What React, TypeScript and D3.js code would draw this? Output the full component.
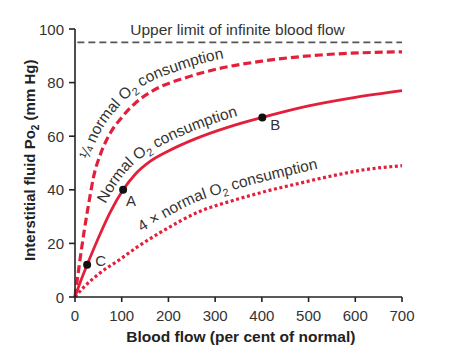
import React from "react";
import * as d3 from "d3";

const W = 466;
const H = 355;

// Blood flow (% of normal) vs interstitial fluid Po2 (mm Hg)
const quarterFlow = [0, 10, 20, 30, 40, 55, 75, 100, 130, 167, 240, 310, 400, 525, 700];
const quarterPo2 = [0, 13, 25, 35.5, 45, 53.5, 61, 67, 72.5, 77, 82, 85.3, 88, 90.3, 91.5];

const normalFlow = [0, 13, 26, 50, 75, 103, 130, 160, 200, 260, 330, 401, 500, 600, 700];
const normalPo2 = [0, 6.3, 12, 22, 31.5, 40, 46, 50.5, 54.5, 59.2, 63.5, 67, 71.3, 74.5, 77];

const fourFlow = [0, 18, 50, 96, 132, 182, 268, 338, 410, 482, 553, 620, 700];
const fourPo2 = [0, 3.5, 8.5, 14, 18.5, 24, 32, 36, 39.5, 42.5, 45.3, 47.5, 49];

const upperLimit = 95;

const markerNames = ["C", "A", "B"];
const markerFlow = [26, 103, 401];
const markerPo2 = [12, 40, 67];

const xTicks = [0, 100, 200, 300, 400, 500, 600, 700];
const yTicks = [0, 20, 40, 60, 80, 100];

const RED = "#e3203c";
const TEXT = "#333";
const FONT = "'Liberation Sans', Arial, Helvetica, sans-serif";

const x = d3.scaleLinear().domain([0, 700]).range([75, 402]);
const y = d3.scaleLinear().domain([0, 100]).range([297, 29]);

const line = d3
  .line<[number, number]>()
  .x((d) => x(d[0]))
  .y((d) => y(d[1]))
  .curve(d3.curveMonotoneX);

const zip = (a: number[], b: number[]) => a.map((v, i) => [v, b[i]] as [number, number]);

function offsetPath(data: [number, number][], dist: number) {
  const pts = data.map((d) => [x(d[0]), y(d[1])]);
  const out = pts.map((p, i) => {
    const a = pts[Math.max(0, i - 1)];
    const b = pts[Math.min(pts.length - 1, i + 1)];
    const dx = b[0] - a[0];
    const dy = b[1] - a[1];
    const len = Math.hypot(dx, dy) || 1;
    const tx = dx / len;
    const ty = dy / len;
    return [p[0] + dist * ty, p[1] - dist * tx] as [number, number];
  });
  return d3.line<[number, number]>().curve(d3.curveCatmullRom.alpha(0.5))(out) || "";
}

const quarter = zip(quarterFlow, quarterPo2);
const normal = zip(normalFlow, normalPo2);
const four = zip(fourFlow, fourPo2);

// label offsets (px) for marker letters
const markerLabelDx = [8, 3, 8];
const markerLabelDy = [1, 16, 13];

function Label({ id, path, start, pre, size = 15.5 }: { id: string; path: string; start: number; pre: string; size?: number }) {
  return (
    <g>
      <path id={id} d={path} fill="none" stroke="none" />
      <text fontFamily={FONT} fontSize={size} fill={TEXT}>
        <textPath href={`#${id}`} startOffset={start}>
          {pre}O
          <tspan dy={4} fontSize={size * 0.7}>2</tspan>
          <tspan dy={-4}> consumption</tspan>
        </textPath>
      </text>
    </g>
  );
}

export default function App() {
  return (
    <svg width={W} height={H} style={{ position: "absolute", left: 0, top: 0, background: "#fff" }}>
      <rect width={W} height={H} fill="#fff" />
      {/* upper limit */}
      <line x1={x(5)} x2={x(700)} y1={y(upperLimit)} y2={y(upperLimit)} stroke="#555" strokeWidth={1.6} strokeDasharray="7,4" />
      <text x={x(348)} y={y(upperLimit) - 7} textAnchor="middle" fontFamily={FONT} fontSize={15.5} fill={TEXT}>
        Upper limit of infinite blood flow
      </text>

      {/* curves */}
      <path d={line(quarter) || ""} fill="none" stroke={RED} strokeWidth={3.2} strokeDasharray="8,4" />
      <path d={line(normal) || ""} fill="none" stroke={RED} strokeWidth={2.8} />
      <path d={line(four) || ""} fill="none" stroke={RED} strokeWidth={3.2} strokeDasharray="3,2.6" />

      {/* curve labels */}
      <Label id="lq" path={offsetPath(quarter, 9)} start={138} pre={"\u00BC normal "} />
      <Label id="ln" path={offsetPath(normal, 8)} start={98} pre={"Normal "} />
      <Label id="lf" path={offsetPath(four, 10)} start={95} pre={"4 \u00D7 normal "} />

      {/* markers */}
      {markerNames.map((n, i) => (
        <g key={n}>
          <circle cx={x(markerFlow[i])} cy={y(markerPo2[i])} r={4} fill="#111" />
          <text
            x={x(markerFlow[i]) + markerLabelDx[i]}
            y={y(markerPo2[i]) + markerLabelDy[i]}
            fontFamily={FONT}
            fontSize={15}
            fill={TEXT}
          >
            {n}
          </text>
        </g>
      ))}

      {/* axes */}
      <line x1={x(0)} x2={x(0)} y1={y(0)} y2={y(100)} stroke="#222" strokeWidth={1.6} />
      <line x1={x(0)} x2={x(700)} y1={y(0)} y2={y(0)} stroke="#222" strokeWidth={1.6} />
      {yTicks.map((t) => (
        <g key={"y" + t}>
          <line x1={x(0) - 6} x2={x(0)} y1={y(t)} y2={y(t)} stroke="#222" strokeWidth={1.6} />
          <text x={x(0) - 11} y={y(t) + 5.5} textAnchor="end" fontFamily={FONT} fontSize={15} fill={TEXT}>
            {t}
          </text>
        </g>
      ))}
      {xTicks.map((t) => (
        <g key={"x" + t}>
          <line x1={x(t)} x2={x(t)} y1={y(0)} y2={y(0) + 5} stroke="#222" strokeWidth={1.6} />
          <text x={x(t)} y={y(0) + 24} textAnchor="middle" fontFamily={FONT} fontSize={15} fill={TEXT}>
            {t}
          </text>
        </g>
      ))}
      <text x={x(355)} y={342} textAnchor="middle" fontFamily={FONT} fontSize={15.5} fontWeight="bold" fill="#222">
        Blood flow (per cent of normal)
      </text>
      <text transform={`translate(35, ${y(51)}) rotate(-90)`} textAnchor="middle" fontFamily={FONT} fontSize={15} fontWeight="bold" fill="#222">
        Interstitial fluid Po
        <tspan dy={4} fontSize={10}>2</tspan>
        <tspan dy={-4}> (mm Hg)</tspan>
      </text>
    </svg>
  );
}
